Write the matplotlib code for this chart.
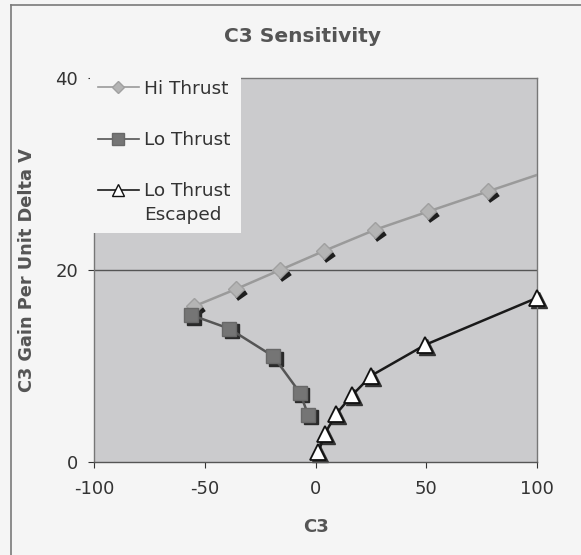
import matplotlib
matplotlib.use("Agg")
import matplotlib.pyplot as plt
import matplotlib.transforms as mtransforms
from matplotlib.patches import Rectangle
from matplotlib.path import Path
from matplotlib.lines import Line2D

plt.rcParams["axes.unicode_minus"] = False

# ---- data ----
hi_x = [-55, -36, -16, 4, 27, 51, 78, 100]
hi_y = [16.2, 18.0, 20.0, 22.0, 24.2, 26.1, 28.2, 29.9]
lo_x = [-56, -39, -19, -7, -3.3]
lo_y = [15.3, 13.9, 11.0, 7.2, 4.9]
esc_x = [1.3, 4.1, 9.3, 16.7, 25.2, 49.5, 100]
esc_y = [1.0, 2.9, 5.0, 7.0, 9.0, 12.2, 17.1]
xticks = [-100, -50, 0, 50, 100]
yticks = [0, 20, 40]
title = "C3 Sensitivity"
xlabel = "C3"
ylabel = "C3 Gain Per Unit Delta V"
labels = ["Hi Thrust", "Lo Thrust", "Lo Thrust", "Escaped"]

W, H = 581, 555
fig = plt.figure(figsize=(W / 100, H / 100), dpi=100)
fig.patch.set_facecolor("#f5f5f5")

# outer chart border (top and left visible)
fig.add_artist(plt.Line2D([11 / W, 11 / W], [0, 1 - 5 / H], color="#7a7a7a", lw=1.2))
fig.add_artist(plt.Line2D([11 / W, 1], [1 - 5 / H, 1 - 5 / H], color="#7a7a7a", lw=1.2))

ax = fig.add_axes([94 / W, 1 - 462 / H, (537 - 94) / W, (462 - 78) / H])
ax.set_facecolor("#cbcbcd")
ax.set_xlim(-100, 100)
ax.set_ylim(0, 40)
ax.set_xticks(xticks)
ax.set_yticks(yticks)
ax.tick_params(labelsize=13, colors="#333333", length=4, width=0.8, direction="out")
ax.tick_params(axis="y", pad=7.5)
ax.tick_params(axis="x", pad=9)
for s in ax.spines.values():
    s.set_color("#777777")
    s.set_linewidth(1.0)
ax.spines["bottom"].set_color("#555555")
ax.axhline(20, color="#555555", lw=1.0, zorder=1)

# shadows
def off(dx, dy):
    return ax.transData + mtransforms.ScaledTranslation(dx / 100, dy / 100, fig.dpi_scale_trans)

dash = Path([(-1, -0.7), (1, 0.7)], [Path.MOVETO, Path.LINETO])
ax.plot(hi_x[:-1], hi_y[:-1], ls="none", marker=dash, ms=7, mew=3.5, mec="#1e1e1e",
        transform=off(5, -6), zorder=2)
ax.plot(lo_x, lo_y, ls="none", marker="s", ms=10.5, mfc="#2a2a2a", mec="#2a2a2a",
        transform=off(2.5, -2.5), zorder=2)
ax.plot(esc_x, esc_y, ls="none", marker="^", ms=11, mfc="#333333", mec="#333333",
        transform=off(2, -2), zorder=2, clip_on=False)

ax.plot(hi_x, hi_y, color="#9a9a9a", lw=1.8, marker="D", ms=8, mfc="#b4b4b4",
        mec="#a0a0a0", markevery=list(range(len(hi_x) - 1)), zorder=3)
ax.plot(lo_x, lo_y, color="#555555", lw=1.8, marker="s", ms=10.5, mfc="#757575",
        mec="#686868", zorder=3)
ax.plot(esc_x, esc_y, color="#1a1a1a", lw=1.8, marker="^", ms=11, mfc="white",
        mec="#111111", mew=1.3, clip_on=False, zorder=4)

# legend white panel
ax.add_patch(Rectangle((-0.01, (462 - 233) / (462 - 78)), (241 - 94) / (537 - 94) + 0.01,
                       0.42, transform=ax.transAxes, facecolor="#f5f5f5",
                       edgecolor="none", zorder=5, clip_on=False))

h1 = Line2D([], [], color="#9a9a9a", lw=1.2, marker="D", ms=6, mfc="#b4b4b4", mec="#a0a0a0")
h2 = Line2D([], [], color="#555555", lw=1.2, marker="s", ms=8, mfc="#757575", mec="#686868")
h3 = Line2D([], [], color="#1a1a1a", lw=1.2, marker="^", ms=8, mfc="white", mec="#111111")
leg = ax.legend([h1, h2, h3], labels[:3], loc="upper left", bbox_to_anchor=(0.0, 1.005),
                frameon=False, fontsize=13.3, handlelength=2.25, handletextpad=0.25,
                labelspacing=1.8, borderpad=0.2, borderaxespad=0.0)
leg.set_zorder(6)
for t in leg.get_texts():
    t.set_color("#333333")

fig.canvas.draw()
bb = leg.get_texts()[2].get_window_extent()
fig.text(bb.x0 / W, (bb.y0 - 6) / H, labels[3], fontsize=13.3, color="#333333",
         ha="left", va="top", zorder=7)

fig.text(302 / W, 1 - 37 / H, title, fontsize=14.5, fontweight="bold", color="#555555",
         ha="center", va="center")
ax.set_xlabel(xlabel, fontsize=13, fontweight="bold", color="#555555", labelpad=14)
ax.set_ylabel(ylabel, fontsize=12.8, fontweight="bold", color="#555555", labelpad=14)

fig.savefig("out.png", dpi=100, facecolor=fig.get_facecolor())
